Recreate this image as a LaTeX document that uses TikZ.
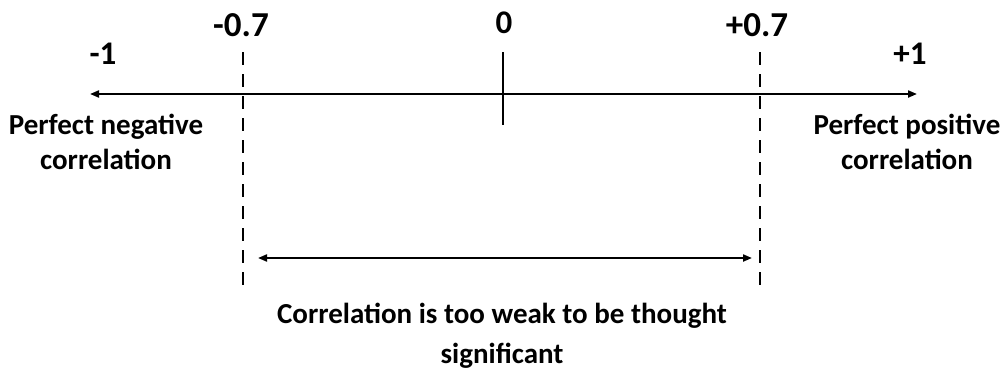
\documentclass[tikz,border=0pt]{standalone}
\usepackage{fontspec}
\setmainfont{Carlito}
\usetikzlibrary{arrows.meta, positioning}
\tikzset{
  cortxt/.style={font=\fontsize{29}{35}\selectfont\bfseries, align=center, inner sep=0pt},
  cornum/.style={font=\fontsize{33}{38}\selectfont\bfseries, inner sep=0pt},
  coraxis/.style={{Triangle[length=9pt,width=7pt]}-{Triangle[length=9pt,width=7pt]}, line width=2pt},
  corcut/.style={dash pattern=on 13pt off 9pt, line width=2.5pt},
}
\begin{document}
\begin{tikzpicture}[x=1pt, y=-1pt]
    \useasboundingbox (0,0) rectangle (1003,372);
    % scale values
    \node[cornum] (mone) at (103,54) {-1};
    \node[cornum, font=\fontsize{35}{40}\selectfont\bfseries] (mcut) at (241,25) {-0.7};
    \node[cornum] (zero) at (504,23) {0};
    \node[cornum, font=\fontsize{35}{40}\selectfont\bfseries] (pcut) at (757,25) {+0.7};
    \node[cornum] (pone) at (910,54) {+1};
    % axis
    \coordinate (lft) at (90,94);
    \coordinate (rgt) at (917,94);
    \draw[coraxis] (lft) -- (rgt);
    \coordinate (midtop) at (503,52);
    \coordinate (midbot) at (503,125);
    \draw[line width=2pt] (midtop) -- (midbot);
    % cut-offs
    \coordinate (lcuttop) at (243,52);
    \coordinate (lcutbot) at (243,288);
    \coordinate (rcuttop) at (760,52);
    \coordinate (rcutbot) at (760,288);
    \draw[corcut] (lcuttop) -- (lcutbot);
    \draw[corcut] (rcuttop) -- (rcutbot);
    \coordinate (wlft) at (258,258);
    \coordinate (wrgt) at (752,258);
    \draw[coraxis] (wlft) -- (wrgt);
    % labels
    \node[cortxt, anchor=north] (neg) at (106,114) {Perfect negative\\correlation};
    \node[cortxt, anchor=north] (pos) at (907,114) {Perfect positive\\correlation};
    \node[cortxt, anchor=north, font=\fontsize{29}{40}\selectfont\bfseries] (weak) at (502,303) {Correlation is too weak to be thought\\significant};
\end{tikzpicture}
\end{document}
